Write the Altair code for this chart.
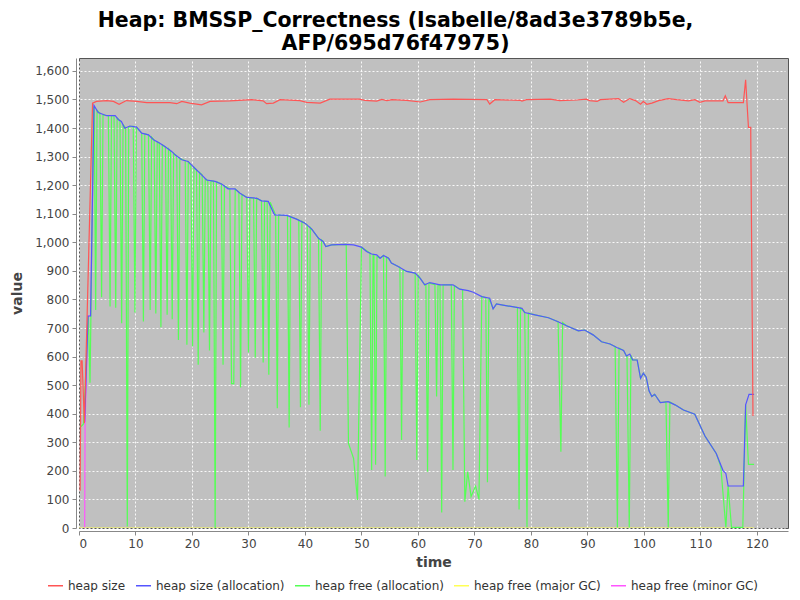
import altair as alt
import pandas as pd

series_names = ["heap size", "heap size (allocation)", "heap free (allocation)",
                "heap free (major GC)", "heap free (minor GC)"]
series_colors = ["#FF5555", "#5555FF", "#55FF55", "#FFFF55", "#FF55FF"]

x_ticks = [0, 10, 20, 30, 40, 50, 60, 70, 80, 90, 100, 110, 120]
y_ticks = [0, 100, 200, 300, 400, 500, 600, 700, 800, 900, 1000, 1100, 1200,
           1300, 1400, 1500, 1600]

heap_size = [
    (0.2, 130), (0.35, 585), (0.55, 585), (0.95, 367), (2.4, 1487), (3.1, 1493),
    (4.9, 1496), (6.1, 1493), (7.1, 1483), (8.4, 1496), (10.2, 1493), (12.0, 1489),
    (16.1, 1489), (17.3, 1485), (18.2, 1493), (19.6, 1487), (21.7, 1481), (23.2, 1493),
    (26.7, 1495), (30.6, 1499), (32.6, 1495), (33.2, 1485), (34.4, 1487), (35.6, 1499),
    (39.1, 1496), (40.3, 1490), (42.7, 1487), (44.4, 1501), (49.7, 1501), (50.6, 1497),
    (52.7, 1494), (53.6, 1500), (54.5, 1496), (55.4, 1499), (58.0, 1497), (60.4, 1491),
    (62.1, 1499), (66.2, 1501), (72.2, 1499), (72.7, 1484), (73.6, 1499), (78.1, 1497),
    (78.4, 1494), (79.2, 1499), (83.4, 1501), (85.1, 1496), (88.1, 1498), (89.8, 1501),
    (90.4, 1496), (91.7, 1493), (92.3, 1499), (95.5, 1503), (96.4, 1490), (97.5, 1503),
    (98.5, 1496), (99.4, 1483), (99.9, 1493), (100.5, 1483), (101.4, 1487), (102.6, 1496),
    (104.3, 1503), (105.8, 1499), (107.9, 1495), (109.0, 1499), (109.9, 1490), (110.8, 1495),
    (114.0, 1495), (114.4, 1513), (114.9, 1489), (117.6, 1489), (118.0, 1569), (118.5, 1402),
    (118.9, 1402), (119.3, 392),
]

heap_alloc = [
    (1.0, 372), (1.6, 742), (2.05, 742), (2.65, 1479), (3.4, 1454), (4.9, 1443),
    (6.4, 1443), (7.0, 1429), (7.5, 1423), (8.1, 1399), (9.0, 1407), (10.2, 1403),
    (11.1, 1382), (12.3, 1376), (13.2, 1359), (14.3, 1347), (15.2, 1335), (16.4, 1318),
    (17.0, 1306), (18.2, 1289), (19.3, 1283), (20.5, 1259), (21.4, 1242), (22.6, 1218),
    (24.1, 1213), (25.3, 1203), (26.4, 1187), (27.6, 1187), (28.5, 1172), (29.7, 1157),
    (31.5, 1154), (32.3, 1145), (33.5, 1143), (34.6, 1096), (36.8, 1094), (38.5, 1081),
    (40.0, 1067), (41.2, 1046), (42.4, 1014), (43.2, 1003), (43.7, 985), (44.7, 991),
    (47.1, 993), (48.6, 991), (50.0, 983), (50.9, 968), (51.8, 959), (52.7, 956),
    (53.3, 944), (53.9, 954), (54.8, 944), (55.3, 927), (56.5, 915), (58.0, 898),
    (59.5, 892), (60.4, 874), (61.2, 851), (62.1, 859), (63.9, 851), (66.2, 851),
    (67.4, 836), (68.9, 831), (69.8, 825), (71.3, 810), (72.7, 804), (73.3, 767),
    (73.9, 784), (74.8, 781), (77.2, 773), (78.4, 769), (78.9, 754), (80.7, 746),
    (83.1, 736), (84.8, 722), (86.3, 708), (88.4, 690), (89.5, 693), (91.0, 676),
    (92.5, 652), (94.0, 644), (95.2, 632), (96.4, 621), (96.9, 602), (97.5, 609),
    (98.0, 588), (98.8, 588), (99.4, 524), (99.9, 542), (100.4, 528), (100.9, 480),
    (101.4, 460), (101.9, 468), (102.9, 439), (104.3, 442), (105.5, 431), (107.0, 413),
    (109.0, 398), (110.8, 322), (112.8, 261), (114.0, 201), (114.5, 191), (114.9, 147),
    (117.6, 147), (118.0, 431), (118.6, 468), (119.5, 468),
]

free_alloc = [
    (0.35, 355), (0.8, 364), (1.65, 742), (1.95, 508), (2.6, 1475),
    (2.7, 1470), (2.95, 763), (3.2, 1462), (3.7, 1452), (4.0, 808), (4.25, 1446),
    (5.2, 1443), (5.5, 775), (5.75, 1443), (6.2, 1443), (6.5, 771), (6.75, 1435),
    (7.25, 1426), (7.55, 717), (7.8, 1412), (8.25, 1401), (8.55, 5), (8.8, 1405),
    (9.6, 1406), (9.9, 754), (10.15, 1403), (11.1, 1382), (11.4, 723), (11.65, 1380),
    (12.3, 1376), (12.6, 763), (12.85, 1368), (13.3, 1358), (13.6, 751), (13.85, 1352),
    (14.2, 1348), (14.5, 703), (14.75, 1341), (15.3, 1333), (15.6, 746), (15.85, 1328),
    (16.2, 1320), (16.5, 731), (16.75, 1312), (17.3, 1302), (17.6, 658), (17.85, 1294),
    (18.8, 1286), (19.1, 641), (19.35, 1282), (19.8, 1270), (20.1, 635), (20.35, 1263),
    (20.8, 1254), (21.1, 571), (21.35, 1244), (21.8, 1236), (22.1, 684), (22.35, 1222),
    (22.8, 1217), (23.1, 621), (23.35, 1215), (23.8, 1214), (24.1, 0), (24.35, 1212),
    (25.2, 1204), (25.5, 571), (25.75, 1198), (26.7, 1187), (27.0, 505), (27.4, 505),
    (27.65, 1186), (28.3, 1175), (28.6, 492), (28.85, 1168), (29.7, 1157), (30.0, 614),
    (30.25, 1156), (30.9, 1155), (31.2, 596), (31.45, 1154), (32.3, 1145), (32.6, 579),
    (32.85, 1144), (33.3, 1143), (33.6, 536), (33.85, 1140), (34.8, 1096), (35.1, 419),
    (35.35, 1095), (36.9, 1093), (37.2, 352), (37.45, 1090), (38.9, 1078), (39.2, 423),
    (39.45, 1074), (40.4, 1060), (40.7, 431), (40.95, 1052), (42.4, 1014), (42.7, 340),
    (42.95, 1008), (43.2, 1003), (43.7, 985), (44.7, 991), (47.3, 993), (47.7, 296),
    (48.6, 244), (49.3, 98), (50.0, 983), (51.5, 962), (51.8, 203), (52.05, 958),
    (52.2, 957), (52.5, 221), (52.75, 950), (53.3, 944), (53.9, 954), (54.2, 180),
    (54.45, 948), (54.8, 944), (55.3, 927), (56.5, 915), (56.8, 912), (57.1, 308),
    (57.35, 903), (58.0, 898), (59.5, 892), (59.8, 238), (60.05, 885), (60.4, 874),
    (61.2, 851), (61.4, 853), (61.7, 197), (61.95, 857), (63.0, 852), (63.3, 460),
    (63.55, 851), (63.9, 851), (64.2, 54), (64.45, 851), (65.9, 851), (66.2, 203),
    (66.45, 848), (67.4, 836), (67.9, 834), (68.3, 92), (68.8, 197), (69.4, 110),
    (70.2, 147), (70.8, 100), (71.3, 810), (72.0, 806), (72.3, 160), (72.55, 805),
    (73.3, 767), (73.9, 784), (74.8, 781), (77.2, 773), (77.6, 772), (77.9, 65),
    (78.15, 770), (78.9, 754), (79.3, 3), (79.55, 752), (80.7, 746), (83.1, 736),
    (84.8, 722), (85.3, 267), (85.6, 719), (86.3, 708), (88.4, 690), (89.5, 693),
    (91.0, 676), (92.5, 652), (94.0, 644), (94.9, 635), (95.3, 2), (95.6, 630),
    (96.4, 621), (96.9, 602), (97.0, 603), (97.4, 2), (97.7, 605), (98.0, 588),
    (98.8, 588), (99.4, 524), (99.9, 542), (100.4, 528), (100.9, 480), (101.4, 460),
    (101.9, 468), (102.9, 439), (103.9, 441), (104.3, 2), (104.6, 441), (105.5, 431),
    (107.0, 413), (109.0, 398), (110.8, 322), (112.8, 261), (113.6, 215), (114.5, 2),
    (114.9, 147), (115.5, 2), (117.5, 2), (118.0, 431), (118.5, 223), (119.5, 223),
]

free_major = [(0.0, 0), (119.5, 0)]

free_minor = [(1.0, 0), (1.08, 372), (1.6, 742), (2.05, 742), (2.65, 1479)]

rows = []
for name, pts in zip(series_names, [heap_size, heap_alloc, free_alloc, free_major, free_minor]):
    for i, (t, v) in enumerate(pts):
        rows.append({"series": name, "t": t, "v": v, "i": i})
df = pd.DataFrame(rows)

FONT = "DejaVu Sans"

x_enc = alt.X("t:Q", title="time",
              scale=alt.Scale(domain=[0, 125.5], nice=False, zero=False),
              axis=alt.Axis(values=x_ticks, format="d"))
y_enc = alt.Y("v:Q", title="value",
              scale=alt.Scale(domain=[0, 1645], nice=False),
              axis=alt.Axis(values=y_ticks, format=",d"))
color_enc = alt.Color("series:N",
                      scale=alt.Scale(domain=series_names, range=series_colors),
                      legend=alt.Legend(title=None, orient="none", legendX=-32, legendY=519,
                                        direction="horizontal", symbolType="stroke",
                                        symbolSize=225, symbolStrokeWidth=1.5,
                                        labelFont=FONT, labelFontSize=12, labelColor="#333333",
                                        labelOffset=4, columnPadding=7))


def layer(name):
    return (alt.Chart(df)
            .transform_filter(alt.datum.series == name)
            .mark_line(strokeWidth=1.2, clip=True)
            .encode(x=x_enc, y=y_enc, color=color_enc, order="i:Q"))


chart = alt.layer(*[layer(n) for n in reversed(series_names)]).properties(
    width=709, height=470,
    autosize=alt.AutoSizeParams(type="none"),
    padding={"left": 71, "top": 50, "right": 4, "bottom": 64},
    title=alt.TitleParams(
        text=["Heap: BMSSP_Correctness (Isabelle/8ad3e3789b5e,", "AFP/695d76f47975)"],
        font=FONT, fontSize=20.5, fontWeight="bold", color="#000000",
        anchor="middle", dx=-38, offset=4, lineHeight=23),
).configure_view(
    fill="#C0C0C0", stroke="#555555", strokeWidth=1
).configure_axis(
    grid=True, gridColor="#FFFFFF", gridDash=[2, 2], gridOpacity=0.9, gridWidth=1,
    domainColor="#888888", tickColor="#888888", tickSize=4, offset=3,
    labelFont=FONT, labelFontSize=12, labelColor="#444444", labelPadding=3,
    titleFont=FONT, titleFontSize=14, titleFontWeight="bold", titleColor="#444444",
).configure_axisX(titlePadding=6).configure_axisY(titlePadding=10)

chart.save("out.html", embed_options={"renderer": "svg", "actions": False})
